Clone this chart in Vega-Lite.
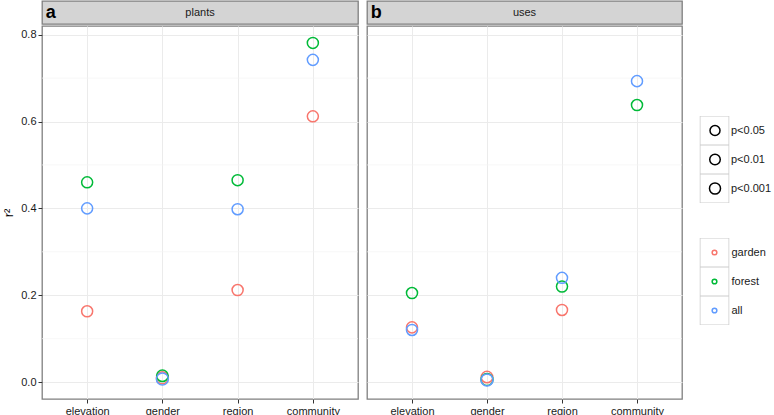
{
  "$schema": "https://vega.github.io/schema/vega-lite/v6.json",
  "padding": {"left": 2, "top": 0, "right": 0, "bottom": 0},
  "background": "white",
  "config": {
    "font": "Liberation Sans",
    "view": {"stroke": "#7F7F7F", "strokeWidth": 1.3},
    "axis": {"labelFont": "Liberation Sans", "labelFontSize": 11, "labelColor": "#1a1a1a", "tickColor": "#333333", "tickSize": 4, "labelPadding": 2, "domain": false, "gridColor": "#EBEBEB", "gridWidth": 1},
    "concat": {"spacing": 7},
    "legend": {"labelFont": "Liberation Sans", "labelFontSize": 11, "labelColor": "#1a1a1a"}
  },
  "datasets": {
    "pts": [
      {"panel": "plants", "var": "elevation", "group": "garden", "r2": 0.163, "p": "p<0.001"},
      {"panel": "plants", "var": "elevation", "group": "forest", "r2": 0.460, "p": "p<0.001"},
      {"panel": "plants", "var": "elevation", "group": "all", "r2": 0.400, "p": "p<0.001"},
      {"panel": "plants", "var": "gender", "group": "garden", "r2": 0.010, "p": "ns-"},
      {"panel": "plants", "var": "gender", "group": "forest", "r2": 0.0145, "p": "ns"},
      {"panel": "plants", "var": "gender", "group": "all", "r2": 0.007, "p": "ns-"},
      {"panel": "plants", "var": "region", "group": "garden", "r2": 0.212, "p": "p<0.001"},
      {"panel": "plants", "var": "region", "group": "forest", "r2": 0.465, "p": "p<0.001"},
      {"panel": "plants", "var": "region", "group": "all", "r2": 0.398, "p": "p<0.001"},
      {"panel": "plants", "var": "community", "group": "garden", "r2": 0.612, "p": "p<0.001"},
      {"panel": "plants", "var": "community", "group": "forest", "r2": 0.781, "p": "p<0.001"},
      {"panel": "plants", "var": "community", "group": "all", "r2": 0.742, "p": "p<0.001"},
      {"panel": "uses", "var": "elevation", "group": "garden", "r2": 0.126, "p": "p<0.001"},
      {"panel": "uses", "var": "elevation", "group": "forest", "r2": 0.205, "p": "p<0.001"},
      {"panel": "uses", "var": "elevation", "group": "all", "r2": 0.120, "p": "p<0.001"},
      {"panel": "uses", "var": "gender", "group": "garden", "r2": 0.0115, "p": "ns"},
      {"panel": "uses", "var": "gender", "group": "forest", "r2": 0.006, "p": "ns-"},
      {"panel": "uses", "var": "gender", "group": "all", "r2": 0.005, "p": "ns-"},
      {"panel": "uses", "var": "region", "group": "garden", "r2": 0.166, "p": "p<0.001"},
      {"panel": "uses", "var": "region", "group": "forest", "r2": 0.220, "p": "p<0.001"},
      {"panel": "uses", "var": "region", "group": "all", "r2": 0.240, "p": "p<0.001"},
      {"panel": "uses", "var": "community", "group": "forest", "r2": 0.638, "p": "p<0.001"},
      {"panel": "uses", "var": "community", "group": "all", "r2": 0.693, "p": "p<0.001"}
    ],
    "minor": [{"v": 0.1}, {"v": 0.3}, {"v": 0.5}, {"v": 0.7}],
    "strips": [{"panel": "plants", "letter": "a"}, {"panel": "uses", "letter": "b"}]
  },
  "hconcat": [
    {
      "spacing": 0,
      "vconcat": [
        {
          "width": 316, "height": 23,
          "view": {"fill": "#D4D4D4", "stroke": "#7F7F7F"},
          "data": {"name": "strips"},
          "transform": [{"filter": "datum.panel === 'plants'"}],
          "layer": [
            {
              "mark": {"type": "text", "fontSize": 11, "color": "#1a1a1a", "baseline": "middle"},
              "encoding": {"text": {"field": "panel"}}
            },
            {
              "mark": {"type": "text", "fontSize": 18, "fontWeight": "bold", "color": "#000000", "baseline": "middle", "align": "left"},
              "encoding": {
                "text": {"field": "letter"},
                "x": {"datum": 0.012, "type": "quantitative", "scale": {"domain": [0, 1], "nice": false, "zero": false}, "axis": null}
              }
            }
          ]
        },
        {
          "width": 316, "height": 373,
          "layer": [
            {
              "data": {"name": "minor"},
              "mark": {"type": "rule", "color": "#F4F4F4", "strokeWidth": 0.7},
              "encoding": {"y": {"field": "v", "type": "quantitative"}}
            },
            {
              "data": {"name": "pts"},
              "transform": [{"filter": "datum.panel === 'plants'"}],
              "mark": {"type": "point", "filled": false, "strokeWidth": 0},
              "encoding": {
                "x": {"field": "var", "type": "nominal", "scale": {"type": "point", "padding": 0.6, "domain": ["elevation", "gender", "region", "community"]}, "axis": {"title": null, "labelAngle": 0, "grid": true}},
                "y": {"field": "r2", "type": "quantitative", "scale": {"domain": [-0.039, 0.82], "nice": false, "zero": false}, "axis": {"title": "r²", "titleFont": "Liberation Sans", "titleFontSize": 13, "titleFontWeight": "normal", "titleColor": "#000000", "titlePadding": 5, "values": [0, 0.2, 0.4, 0.6, 0.8], "format": ".1f", "grid": true}},
                "shape": {"field": "group", "type": "nominal", "scale": {"domain": ["garden", "forest", "all", "-"], "range": ["square", "square", "square", "square"]}, "legend": {"title": null, "orient": "none", "legendX": 657.5, "legendY": 237, "values": ["garden", "forest", "all"], "labelExpr": "''", "symbolType": "square", "symbolSize": 841, "symbolFillColor": "white", "symbolStrokeColor": "#CCCCCC", "symbolStrokeWidth": 1, "symbolOpacity": 1, "rowPadding": 0, "clipHeight": 29, "symbolOffset": 0, "labelOffset": 0, "zindex": 0}},
                "opacity": {"field": "p", "type": "nominal", "scale": {"domain": ["p<0.05", "p<0.01", "p<0.001", "ns", "ns-", "-"], "range": [1, 1, 1, 1, 1, 1]}, "legend": {"title": null, "orient": "none", "legendX": 657.5, "legendY": 115, "values": ["p<0.05", "p<0.01", "p<0.001"], "labelExpr": "''", "symbolType": "square", "symbolSize": 841, "symbolFillColor": "white", "symbolStrokeColor": "#CCCCCC", "symbolStrokeWidth": 1, "rowPadding": 0, "clipHeight": 29, "symbolOffset": 0, "labelOffset": 0, "zindex": 0}}
              }
            },
            {
              "data": {"name": "pts"},
              "transform": [{"filter": "datum.panel === 'plants'"}],
              "mark": {"type": "point", "filled": false, "strokeWidth": 1.5, "opacity": 1},
              "encoding": {
                "x": {"field": "var", "type": "nominal", "scale": {"type": "point", "padding": 0.6, "domain": ["elevation", "gender", "region", "community"]}, "axis": {"title": null, "labelAngle": 0, "grid": true}},
                "y": {"field": "r2", "type": "quantitative", "scale": {"domain": [-0.039, 0.82], "nice": false, "zero": false}, "axis": {"title": "r²", "titleFont": "Liberation Sans", "titleFontSize": 13, "titleFontWeight": "normal", "titleColor": "#000000", "titlePadding": 5, "values": [0, 0.2, 0.4, 0.6, 0.8], "format": ".1f", "grid": true}},
                "color": {"field": "group", "type": "nominal", "scale": {"domain": ["garden", "forest", "all"], "range": ["#F8766D", "#00BA38", "#619CFF"]}, "legend": {"title": null, "orient": "none", "legendX": 657.5, "legendY": 237, "symbolSize": 22, "symbolStrokeWidth": 1.5, "rowPadding": 0, "clipHeight": 29, "symbolOffset": 9.5, "labelOffset": 11.5, "zindex": 1}},
                "size": {"field": "p", "type": "nominal", "scale": {"domain": ["p<0.05", "p<0.01", "p<0.001", "ns", "ns-"], "range": [100, 144, 256, 49, 25]}, "legend": {"title": null, "orient": "none", "legendX": 657.5, "legendY": 115, "values": ["p<0.05", "p<0.01", "p<0.001"], "symbolStrokeColor": "#000000", "symbolStrokeWidth": 1.5, "rowPadding": 0, "clipHeight": 29, "symbolOffset": 9, "labelOffset": 9.5, "zindex": 1}}
              }
            }
          ]
        }
      ]
    },
    {
      "spacing": 0,
      "vconcat": [
        {
          "width": 315, "height": 23,
          "view": {"fill": "#D4D4D4", "stroke": "#7F7F7F"},
          "data": {"name": "strips"},
          "transform": [{"filter": "datum.panel === 'uses'"}],
          "layer": [
            {
              "mark": {"type": "text", "fontSize": 11, "color": "#1a1a1a", "baseline": "middle"},
              "encoding": {"text": {"field": "panel"}}
            },
            {
              "mark": {"type": "text", "fontSize": 18, "fontWeight": "bold", "color": "#000000", "baseline": "middle", "align": "left"},
              "encoding": {
                "text": {"field": "letter"},
                "x": {"datum": 0.012, "type": "quantitative", "scale": {"domain": [0, 1], "nice": false, "zero": false}, "axis": null}
              }
            }
          ]
        },
        {
          "width": 315, "height": 373,
          "layer": [
            {
              "data": {"name": "minor"},
              "mark": {"type": "rule", "color": "#F4F4F4", "strokeWidth": 0.7},
              "encoding": {"y": {"field": "v", "type": "quantitative"}}
            },
            {
              "data": {"name": "pts"},
              "transform": [{"filter": "datum.panel === 'uses'"}],
              "mark": {"type": "point", "filled": false, "strokeWidth": 1.5, "opacity": 1},
              "encoding": {
                "x": {"field": "var", "type": "nominal", "scale": {"type": "point", "padding": 0.6, "domain": ["elevation", "gender", "region", "community"]}, "axis": {"title": null, "labelAngle": 0, "grid": true}},
                "y": {"field": "r2", "type": "quantitative", "scale": {"domain": [-0.039, 0.82], "nice": false, "zero": false}, "axis": {"title": null, "labels": false, "ticks": false, "values": [0, 0.2, 0.4, 0.6, 0.8], "grid": true}},
                "color": {"field": "group", "type": "nominal", "scale": {"domain": ["garden", "forest", "all"], "range": ["#F8766D", "#00BA38", "#619CFF"]}},
                "size": {"field": "p", "type": "nominal", "scale": {"domain": ["p<0.05", "p<0.01", "p<0.001", "ns", "ns-"], "range": [100, 144, 256, 49, 25]}}
              }
            }
          ]
        }
      ]
    }
  ],
  "resolve": {"scale": {"color": "shared", "size": "shared"}, "legend": {"color": "shared", "size": "shared"}}
}
